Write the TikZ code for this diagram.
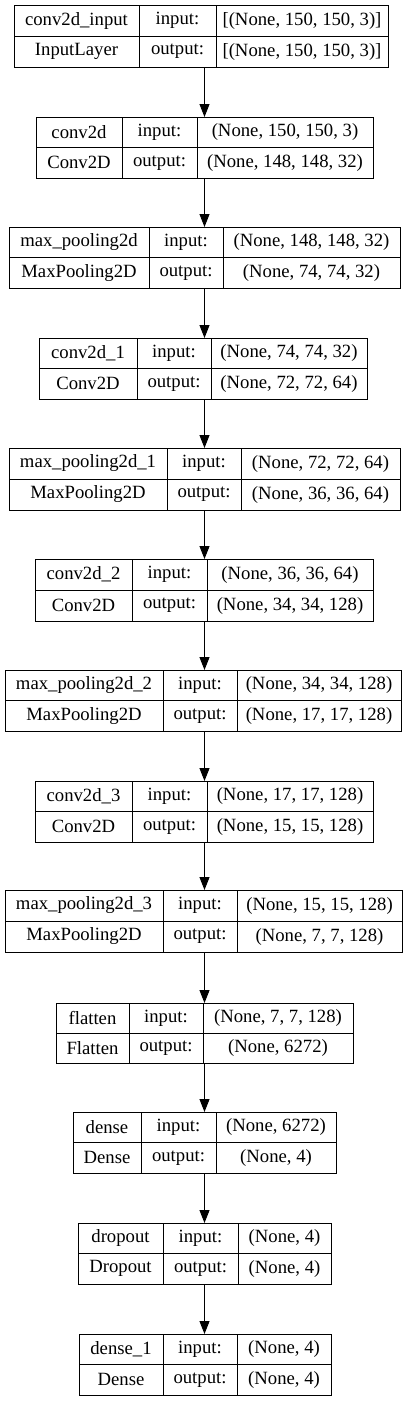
\documentclass[tikz,border=0pt]{standalone}
\usepackage{fontspec}
\setmainfont{Liberation Serif}
\usetikzlibrary{arrows.meta}
\def\getgeom#1,#2,#3,#4,#5,#6\relax{\def\gL{#1}\def\gA{#2}\def\gB{#3}\def\gR{#4}\def\gT{#5}\def\gBot{#6}}
\newcommand\layer[6]{%
  \getgeom#2\relax
  \pgfmathsetmacro\wa{\gA-\gL}%
  \pgfmathsetmacro\wb{\gB-\gA}%
  \pgfmathsetmacro\wc{\gR-\gB}%
  \pgfmathsetmacro\hh{(\gBot-\gT)/2}%
  \pgfmathsetmacro\gM{(\gBot+\gT)/2}%
  \node[cell, minimum width=\wa pt, minimum height=\hh pt] (#1n) at (\gL,\gT) {#3};
  \node[cell, minimum width=\wa pt, minimum height=\hh pt] (#1c) at (\gL,\gM) {#4};
  \node[cell, minimum width=\wb pt, minimum height=\hh pt] (#1i) at (\gA,\gT) {input:};
  \node[cell, minimum width=\wb pt, minimum height=\hh pt] (#1o) at (\gA,\gM) {output:};
  \node[cell, minimum width=\wc pt, minimum height=\hh pt] (#1x) at (\gB,\gT) {#5};
  \node[cell, minimum width=\wc pt, minimum height=\hh pt] (#1y) at (\gB,\gM) {#6};
  \coordinate (#1top) at (204.5,\gT);
  \coordinate (#1bot) at (204.5,\gBot);
}
\begin{document}
\begin{tikzpicture}[x=1pt,y=-1pt,
  cell/.style={draw=black, line width=1pt, anchor=north west, inner sep=0pt, outer sep=0pt,
    font=\fontsize{18.7}{22}\selectfont},
  arr/.style={line width=1pt, -{Triangle[length=13pt,width=10pt]}}]
\useasboundingbox (0,0) rectangle (409,1401);
\fill[white] (0,0) rectangle (409,1401);
\layer{la}{14,139,216,388,5,67}{conv2d\_input}{InputLayer}{[(None, 150, 150, 3)]}{[(None, 150, 150, 3)]}
\layer{lb}{36,122,197,373,117,178}{conv2d}{Conv2D}{(None, 150, 150, 3)}{(None, 148, 148, 32)}
\layer{lc}{9,149,223,400,227,288}{max\_pooling2d}{MaxPooling2D}{(None, 148, 148, 32)}{(None, 74, 74, 32)}
\layer{ld}{39,137,211,367,338,399}{conv2d\_1}{Conv2D}{(None, 74, 74, 32)}{(None, 72, 72, 64)}
\layer{le}{9,167,241,400,448,510}{max\_pooling2d\_1}{MaxPooling2D}{(None, 72, 72, 64)}{(None, 36, 36, 64)}
\layer{lf}{35,132,207,373,559,621}{conv2d\_2}{Conv2D}{(None, 36, 36, 64)}{(None, 34, 34, 128)}
\layer{lg}{5,163,237,401,670,731}{max\_pooling2d\_2}{MaxPooling2D}{(None, 34, 34, 128)}{(None, 17, 17, 128)}
\layer{lh}{35,132,207,373,781,842}{conv2d\_3}{Conv2D}{(None, 17, 17, 128)}{(None, 15, 15, 128)}
\layer{li}{5,163,237,402,890,952}{max\_pooling2d\_3}{MaxPooling2D}{(None, 15, 15, 128)}{(None, 7, 7, 128)}
\layer{lj}{56,129,203,353,1003,1063}{flatten}{Flatten}{(None, 7, 7, 128)}{(None, 6272)}
\layer{lk}{73,141,216,336,1112,1173}{dense}{Dense}{(None, 6272)}{(None, 4)}
\layer{ll}{78,163,238,331,1223,1284}{dropout}{Dropout}{(None, 4)}{(None, 4)}
\layer{lm}{79,163,237,331,1334,1395}{dense\_1}{Dense}{(None, 4)}{(None, 4)}
\draw[arr] (labot) -- (lbtop);
\draw[arr] (lbbot) -- (lctop);
\draw[arr] (lcbot) -- (ldtop);
\draw[arr] (ldbot) -- (letop);
\draw[arr] (lebot) -- (lftop);
\draw[arr] (lfbot) -- (lgtop);
\draw[arr] (lgbot) -- (lhtop);
\draw[arr] (lhbot) -- (litop);
\draw[arr] (libot) -- (ljtop);
\draw[arr] (ljbot) -- (lktop);
\draw[arr] (lkbot) -- (lltop);
\draw[arr] (llbot) -- (lmtop);
\end{tikzpicture}
\end{document}
